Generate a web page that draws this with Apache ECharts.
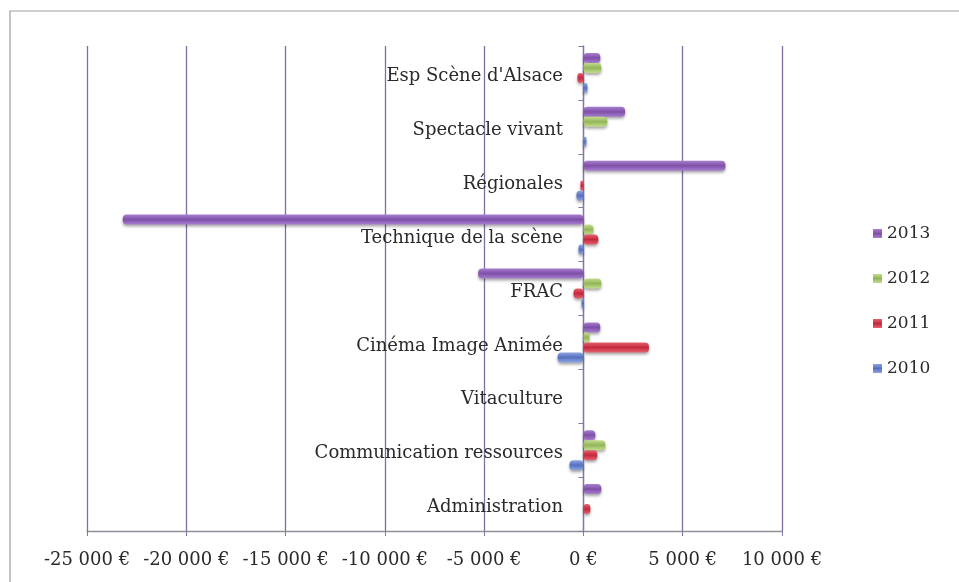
<!DOCTYPE html>
<html>
<head>
<meta charset="utf-8">
<script src="https://cdn.jsdelivr.net/npm/echarts@6/dist/echarts.min.js"></script>
<style>
  html, body { margin: 0; padding: 0; background: #fff; }
  #chart { width: 959px; height: 582px; }
</style>
</head>
<body>
<div id="chart"></div>
<script>
// categories from bottom to top (as drawn)
const categories = ['Administration', 'Communication ressources', 'Vitaculture', 'Cinéma Image Animée', 'FRAC', 'Technique de la scène', 'Régionales', 'Spectacle vivant', "Esp Scène d'Alsace"]
const years = ['2013', '2012', '2011', '2010']
const v2013 = [900, 600, 0, 850, -5300, -23200, 7150, 2100, 850]
const v2012 = [0, 1100, 0, 300, 900, 500, 0, 1200, 900]
const v2011 = [350, 700, 0, 3300, -500, 750, -150, 0, -300]
const v2010 = [0, -700, 0, -1300, -100, -250, -350, 150, 200]

const colors = {
  '2013': ['#a77fd0', '#7f4fa8'],
  '2012': ['#c3de8c', '#93b55a'],
  '2011': ['#e8606e', '#c22a3c'],
  '2010': ['#8ea4e2', '#5570be']
}
const values = { '2013': v2013, '2012': v2012, '2011': v2011, '2010': v2010 }

const font = "'DejaVu Serif', 'Liberation Serif', serif"

function euro(v) {
  const s = Math.abs(v).toString().replace(/\B(?=(\d{3})+(?!\d))/g, ' ')
  return (v < 0 ? '-' : '') + s + ' €'
}

const chart = echarts.init(document.getElementById('chart'))
chart.setOption({
  animation: false,
  graphic: [{
    type: 'rect',
    shape: { x: 10, y: 11, width: 980, height: 600 },
    style: { fill: 'none', stroke: '#a0a0a0', lineWidth: 1.2 },
    z: -1
  }],
  legend: {
    orient: 'vertical',
    left: 868,
    top: 220,
    itemGap: 28,
    itemWidth: 9,
    itemHeight: 9,
    icon: 'rect',
    data: years,
    textStyle: { fontFamily: font, fontSize: 17, color: '#2a2a2a' }
  },
  grid: { left: 87, right: 177, top: 46, bottom: 51, containLabel: false, outerBoundsMode: 'none' },
  xAxis: {
    type: 'value',
    min: -25000,
    max: 10000,
    interval: 5000,
    axisLine: { show: true, lineStyle: { color: '#8f8f9a', width: 1.3 } },
    axisTick: { show: true, length: 5, lineStyle: { color: '#8577a6' } },
    splitLine: { show: true, lineStyle: { color: '#7f6e9e', width: 1.3 } },
    axisLabel: {
      margin: 20,
      fontFamily: font,
      fontSize: 18,
      color: '#2a2a2a',
      formatter: euro
    }
  },
  yAxis: {
    type: 'category',
    data: categories,
    axisLine: { onZero: true, lineStyle: { color: '#8577a6', width: 1.3 } },
    axisTick: { show: true, length: 5, lineStyle: { color: '#8577a6' } },
    axisLabel: {
      // labels sit next to the zero line, not at the grid edge
      margin: -476,
      formatter: v => '{t|' + v + '}',
      rich: {
        t: { fontFamily: font, fontSize: 18, color: '#2a2a2a', padding: [7, 0, 0, 0] }
      }
    }
  },
  series: years.map(y => ({
    name: y,
    type: 'bar',
    data: values[y],
    barWidth: 10,
    barGap: '0%',
    itemStyle: {
      color: new echarts.graphic.LinearGradient(0, 0, 0, 1, [
        { offset: 0, color: colors[y][0] },
        { offset: 0.5, color: colors[y][1] },
        { offset: 1, color: colors[y][0] }
      ]),
      borderRadius: 4,
      shadowBlur: 3,
      shadowOffsetY: 2,
      shadowColor: 'rgba(0,0,0,0.35)'
    }
  }))
})
</script>
</body>
</html>
